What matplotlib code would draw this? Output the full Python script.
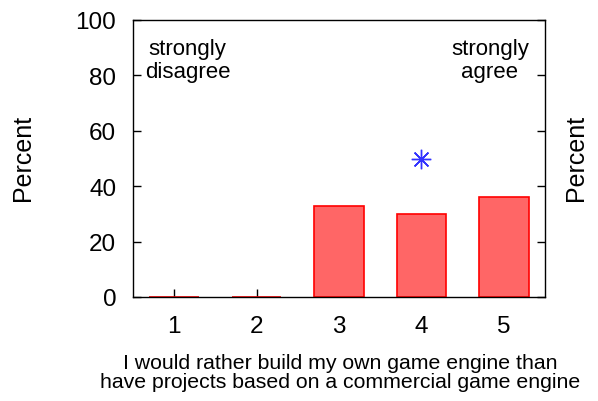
import matplotlib
matplotlib.use("Agg")
import matplotlib.pyplot as plt

plt.rcParams['font.family'] = ['Liberation Sans', 'DejaVu Sans']

categories = [1, 2, 3, 4, 5]
percents = [0, 0, 33, 30, 36]
marker_x = [4]
marker_y = [50]
yticks = [0, 20, 40, 60, 80, 100]

fig = plt.figure(figsize=(5.98, 4.02), dpi=100)
ax = fig.add_axes([133/598, 1-298/402, (545-133)/598, (298-21)/402])

ax.bar(categories, percents, width=0.6, color='#ff6666', edgecolor='red', linewidth=1.2, zorder=2)
ax.plot(marker_x, marker_y, linestyle='none', marker=(8, 2, 0), markersize=14,
        color='#3333ff', markeredgewidth=1.0, zorder=3)

ax.set_xlim(0.5, 5.5)
ax.set_ylim(0, 100)
ax.set_xticks(categories)
ax.set_yticks(yticks)
ax.tick_params(axis='both', direction='in', labelsize=17.5, length=6, width=1)
ax.tick_params(axis='y', right=True, labelright=False, pad=12)
ax.tick_params(axis='x', top=False, pad=13)
for s in ax.spines.values():
    s.set_linewidth(1.0)

fig.text(23/598, 1-158/402, 'Percent', rotation=90, ha='center', va='center', fontsize=18)
fig.text(576/598, 1-158/402, 'Percent', rotation=90, ha='center', va='center', fontsize=18)

ax.text(1.16, 85.5, 'strongly\ndisagree', ha='center', va='center', fontsize=16, linespacing=1.1)
ax.text(4.83, 85.5, 'strongly\nagree', ha='center', va='center', fontsize=16, linespacing=1.1)

fig.text(340/598, 1-373/402, 'I would rather build my own game engine than\nhave projects based on a commercial game engine',
         ha='center', va='center', fontsize=15.3, linespacing=1.05)

fig.savefig('out.png', dpi=100)
